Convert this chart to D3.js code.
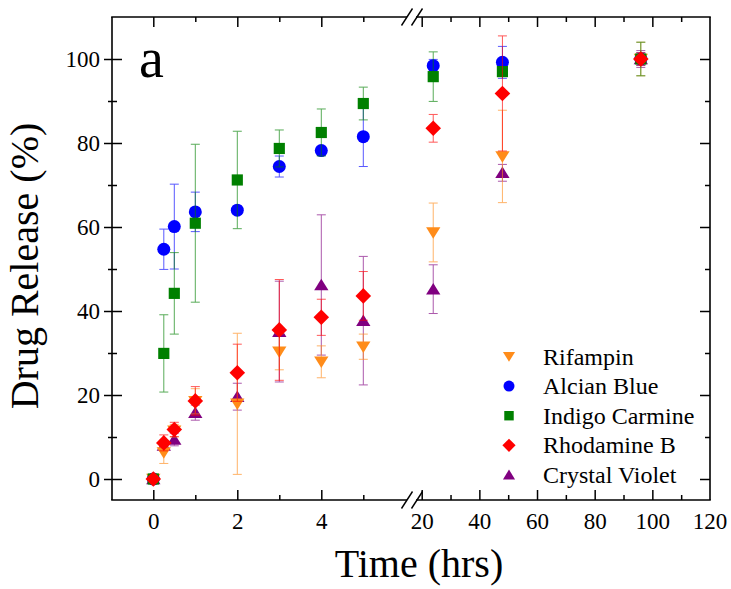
<!DOCTYPE html>
<html><head><meta charset="utf-8">
<script src="https://cdn.jsdelivr.net/npm/d3@7"></script>
<style>body{margin:0;background:#fff}svg{display:block}text{font-family:"Liberation Serif","Times New Roman",serif !important;fill:#000}</style>
</head><body><svg id="c" width="731" height="589"></svg>
<script>
const times = [0, 0.25, 0.5, 1, 2, 3, 4, 5, 24, 48, 96];
const seriesNames = ["Rifampin", "Alcian Blue", "Indigo Carmine", "Rhodamine B", "Crystal Violet"];
const rifampin      = [0, 6.3, 11.5, 18.5, 17.9, 30.3, 27.9, 31.5, 58.7, 76.8, 100];
const rifampinErr   = [0.5, 2.6, 1.5, 3.0, 16.8, 4.3, 3.8, 3.0, 7.0, 11.0, 4.0];
const alcian        = [0, 54.7, 60.1, 63.6, 64.0, 74.4, 78.2, 81.5, 98.4, 99.2, 100];
const alcianErr     = [0.5, 4.8, 10.1, 4.7, 1.0, 2.5, 1.0, 7.1, 1.5, 3.8, 1.5];
const indigo        = [0, 29.9, 44.2, 60.9, 71.2, 78.7, 82.5, 89.4, 95.8, 97.0, 100];
const indigoErr     = [0.5, 9.2, 9.7, 18.8, 11.6, 4.4, 5.6, 3.9, 5.9, 1.0, 4.0];
const rhodamine     = [0, 8.6, 11.8, 18.6, 25.3, 35.5, 38.5, 43.6, 83.5, 91.8, 100];
const rhodamineErr  = [0.8, 1.9, 1.7, 3.4, 6.8, 12.0, 4.3, 5.8, 3.3, 13.7, 1.5];
const violet        = [0, 8.0, 9.4, 15.8, 19.6, 35.1, 46.2, 37.7, 45.2, 72.9, 100];
const violetErr     = [0.5, 1.0, 1.5, 1.8, 3.2, 12.0, 16.7, 15.3, 5.8, 2.0, 2.0];
const yTicks = [0, 20, 40, 60, 80, 100];
const yMinor = [10, 30, 50, 70, 90];
const xLeftTicks = [0, 2, 4];
const xLeftMinor = [1, 3, 5];
const xRightTicks = [20, 40, 60, 80, 100, 120];
const xRightMinor = [30, 50, 70, 90, 110];

const colors = ["#FF8C1A", "#0000FF", "#008000", "#FF0000", "#800080"];
const shapes = ["triDown", "circle", "square", "diamond", "triUp"];
const values = [rifampin, alcian, indigo, rhodamine, violet];
const errs = [rifampinErr, alcianErr, indigoErr, rhodamineErr, violetErr];

const L = 112, R = 710, T = 17, B = 500, BREAK = 411;
const svg = d3.select("#c");
const y = d3.scaleLinear().domain([0, 100]).range([479, 59]);
const xL = d3.scaleLinear().domain([0, 5]).range([153.3, 363.3]);
const xR = d3.scaleLinear().domain([20, 120]).range([421.7, 710]);
const xs = t => t <= 6 ? xL(t) : xR(t);
const fmt = d3.format("d");

function sym(shape, s) {
  const p = d3.path();
  if (shape === "circle") { p.arc(0, 0, s * 0.5, 0, 2 * Math.PI); }
  else if (shape === "square") { const h = s * 0.43; p.rect(-h, -h, 2 * h, 2 * h); }
  else if (shape === "diamond") { const h = s * 0.6; p.moveTo(0, -h); p.lineTo(h, 0); p.lineTo(0, h); p.lineTo(-h, 0); p.closePath(); }
  else if (shape === "triUp") { const w = s * 0.55, h = s * 0.48; p.moveTo(0, -h); p.lineTo(w, h * 0.85); p.lineTo(-w, h * 0.85); p.closePath(); }
  else if (shape === "triDown") { const w = s * 0.55, h = s * 0.48; p.moveTo(0, h); p.lineTo(w, -h * 0.85); p.lineTo(-w, -h * 0.85); p.closePath(); }
  return p.toString();
}

const ax = svg.append("g");
function styleAxis(g) { g.attr("font-family", null).attr("font-size", null); g.select(".domain").remove(); g.selectAll("line").attr("stroke", "#000").attr("stroke-width", 1.5); g.selectAll("text").attr("font-size", 23).attr("fill", "#000"); }
// bottom
ax.append("g").attr("transform", `translate(0,${B})`).call(d3.axisBottom(xL).tickValues(xLeftTicks).tickFormat(fmt).tickSize(-10).tickPadding(13)).call(styleAxis);
ax.append("g").attr("transform", `translate(0,${B})`).call(d3.axisBottom(xL).tickValues(xLeftMinor).tickSize(-5).tickFormat("")).call(styleAxis);
ax.append("g").attr("transform", `translate(0,${B})`).call(d3.axisBottom(xR).tickValues(xRightTicks.slice(0,5)).tickFormat(fmt).tickSize(-10).tickPadding(13)).call(styleAxis);
ax.append("g").attr("transform", `translate(0,${B})`).call(d3.axisBottom(xR).tickValues(xRightMinor).tickSize(-5).tickFormat("")).call(styleAxis);
ax.append("text").attr("x", xR(120)).attr("y", 529).attr("text-anchor", "middle").attr("font-size", 23).text(xRightTicks[5]);
// top
ax.append("g").attr("transform", `translate(0,${T})`).call(d3.axisTop(xL).tickValues(xLeftTicks).tickSize(-10).tickFormat("")).call(styleAxis);
ax.append("g").attr("transform", `translate(0,${T})`).call(d3.axisTop(xL).tickValues(xLeftMinor).tickSize(-5).tickFormat("")).call(styleAxis);
ax.append("g").attr("transform", `translate(0,${T})`).call(d3.axisTop(xR).tickValues(xRightTicks.slice(0,5)).tickSize(-10).tickFormat("")).call(styleAxis);
ax.append("g").attr("transform", `translate(0,${T})`).call(d3.axisTop(xR).tickValues(xRightMinor).tickSize(-5).tickFormat("")).call(styleAxis);
// left (ticks crossing)
ax.append("g").attr("transform", `translate(${L},0)`).call(d3.axisLeft(y).tickValues(yTicks).tickFormat(fmt).tickSize(8).tickPadding(4)).call(styleAxis);
ax.append("g").attr("transform", `translate(${L},0)`).call(d3.axisLeft(y).tickValues(yTicks).tickSize(-10).tickFormat("")).call(styleAxis);
ax.append("g").attr("transform", `translate(${L},0)`).call(d3.axisLeft(y).tickValues(yMinor).tickSize(4).tickFormat("")).call(styleAxis);
ax.append("g").attr("transform", `translate(${L},0)`).call(d3.axisLeft(y).tickValues(yMinor).tickSize(-5).tickFormat("")).call(styleAxis);
// right
ax.append("g").attr("transform", `translate(${R},0)`).call(d3.axisRight(y).tickValues(yTicks).tickSize(-10).tickFormat("")).call(styleAxis);
ax.append("g").attr("transform", `translate(${R},0)`).call(d3.axisRight(y).tickValues(yMinor).tickSize(-5).tickFormat("")).call(styleAxis);

// frame with breaks
const frame = svg.append("g").attr("stroke", "#000").attr("stroke-width", 1.6).attr("fill", "none");
frame.append("line").attr("x1", L).attr("x2", L).attr("y1", T).attr("y2", B);
frame.append("line").attr("x1", R).attr("x2", R).attr("y1", T).attr("y2", B);
[T, B].forEach(yy => {
  frame.append("line").attr("x1", L - 0.8).attr("x2", BREAK - 4).attr("y1", yy).attr("y2", yy);
  frame.append("line").attr("x1", BREAK + 5).attr("x2", R + 0.8).attr("y1", yy).attr("y2", yy);
  [BREAK - 4, BREAK + 6].forEach(cx => {
    frame.append("line").attr("x1", cx - 5.5).attr("y1", yy + 8.5).attr("x2", cx + 5.5).attr("y2", yy - 8.5).attr("stroke-width", 1.4);
  });
});

// data
const order = [4, 0, 1, 2, 3];
const plot = svg.append("g");
order.forEach(si => {
  const g = plot.append("g");
  const pts = times.map((t, i) => ({ t, v: values[si][i], e: errs[si][i] }));
  const eb = g.append("g").attr("stroke", colors[si]).attr("stroke-width", 1).attr("opacity", 0.65);
  pts.forEach(p => {
    const cx = xs(p.t), y1 = y(p.v + p.e), y2 = y(p.v - p.e);
    eb.append("line").attr("x1", cx).attr("x2", cx).attr("y1", y1).attr("y2", y2);
    eb.append("line").attr("x1", cx - 4.5).attr("x2", cx + 4.5).attr("y1", y1).attr("y2", y1);
    eb.append("line").attr("x1", cx - 4.5).attr("x2", cx + 4.5).attr("y1", y2).attr("y2", y2);
  });
  g.selectAll("path.m").data(pts).join("path").attr("class", "m")
    .attr("transform", p => `translate(${xs(p.t)},${y(p.v)})`)
    .attr("d", sym(shapes[si], 13)).attr("fill", colors[si]);
});

// legend
const lg = svg.append("g");
seriesNames.forEach((n, i) => {
  const yy = 356.5 + i * 29.6;
  lg.append("path").attr("transform", `translate(509,${yy})`).attr("d", sym(shapes[i], 11)).attr("fill", colors[i]);
  lg.append("text").attr("x", 543).attr("y", yy + 8).attr("font-size", 24).text(n);
});

// titles
svg.append("text").attr("x", 419).attr("y", 577).attr("text-anchor", "middle").attr("font-size", 40).text("Time (hrs)");
svg.append("text").attr("transform", "translate(38,266) rotate(-90)").attr("text-anchor", "middle").attr("font-size", 40).text("Drug Release (%)");
svg.append("text").attr("x", 139).attr("y", 77).attr("font-size", 56).text("a");
</script></body></html>
